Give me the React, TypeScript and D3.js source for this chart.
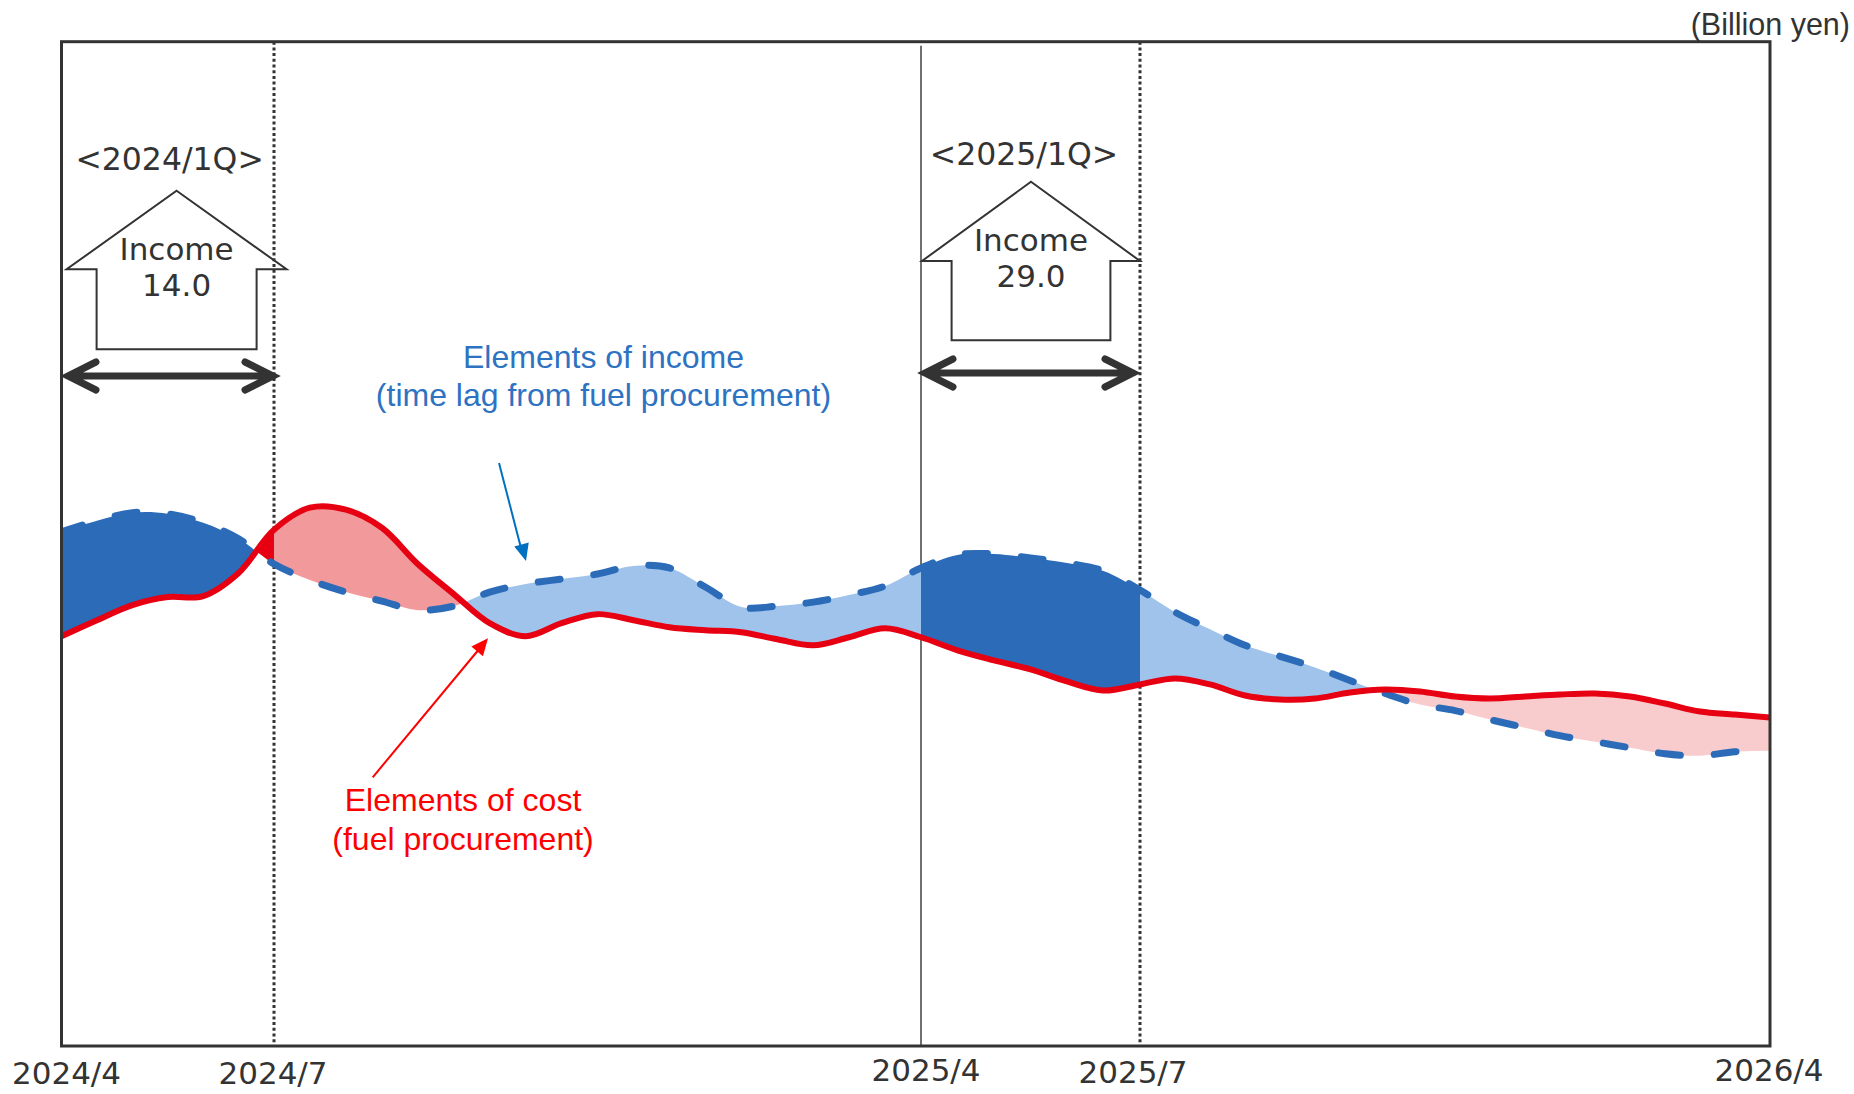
import React from "react";
import * as d3 from "d3";

// ---- data (months since 2024/4, values in arbitrary billion-yen index) ----
const months = [0, 0.5, 1, 1.5, 2, 2.5, 3, 3.5, 4, 4.5, 5, 5.5, 6, 6.5, 7, 7.5, 8, 8.5, 9, 9.5, 10, 10.5, 11, 11.5, 12, 12.5, 13, 13.5, 14, 14.5, 15, 15.5, 16, 16.5, 17, 17.5, 18, 18.5, 19, 19.5, 20, 20.5, 21, 21.5, 22, 22.5, 23, 23.5, 24];
const income = [51.2, 52.3, 53.1, 53.0, 52.1, 50.5, 48.0, 46.4, 45.2, 44.3, 43.4, 43.8, 45.2, 46.0, 46.5, 47.0, 47.8, 47.6, 45.7, 43.7, 43.8, 44.2, 44.9, 45.8, 47.6, 48.9, 49.0, 48.6, 48.1, 47.3, 45.4, 43.2, 41.5, 39.9, 38.8, 37.7, 36.4, 35.1, 34.0, 33.4, 32.5, 31.7, 30.9, 30.3, 29.7, 29.1, 28.9, 29.3, 29.4];
const cost = [40.8, 42.4, 43.9, 44.7, 44.8, 47.1, 51.4, 53.6, 53.4, 51.6, 48.0, 45.0, 42.1, 40.8, 42.1, 43.0, 42.4, 41.7, 41.4, 41.2, 40.5, 39.9, 40.7, 41.6, 40.7, 39.4, 38.4, 37.5, 36.3, 35.4, 36.0, 36.6, 36.0, 34.9, 34.5, 34.6, 35.2, 35.5, 35.3, 34.8, 34.6, 34.8, 35.0, 35.1, 34.8, 34.1, 33.3, 33.0, 32.7];

const tickMonths = [0, 3, 12, 15, 24];
const tickLabels = ["2024/4", "2024/7", "2025/4", "2025/7", "2026/4"];
const quarterStart = [0, 12];
const quarterEnd = [3, 15];
const quarterLabels = ["<2024/1Q>", "<2025/1Q>"];
const quarterIncome = ["14.0", "29.0"];

// ---- layout ----
const W = 1854;
const H = 1094;
const L = 61.5, R = 1770, T = 41.7, B = 1046;

const C_DARKBLUE = "#2b6bb8";
const C_LIGHTBLUE = "#a0c3eb";
const C_RED = "#e60012";
const C_PINK1 = "#f2999c";
const C_PINK2 = "#f8cbcc";
const C_INK = "#333333";

const tickNudge = [5, -1, 5, -7, -1];
const tickBase = [1084, 1084, 1081, 1083, 1081];

function arrowHead(x1: number, y1: number, x2: number, y2: number, len: number, hw: number) {
  const a = Math.atan2(y2 - y1, x2 - x1);
  const bx = x2 - len * Math.cos(a), by = y2 - len * Math.sin(a);
  const px = -Math.sin(a) * hw, py = Math.cos(a) * hw;
  return `M${x2},${y2}L${bx + px},${by + py}L${bx - px},${by - py}Z`;
}

function chevronArrow(x1: number, x2: number, yy: number) {
  const dx = 28, dy = 14;
  return `M${x1},${yy}L${x2},${yy}M${x1 + dx},${yy - dy}L${x1},${yy}L${x1 + dx},${yy + dy}M${x2 - dx},${yy - dy}L${x2},${yy}L${x2 - dx},${yy + dy}`;
}

function houseArrow(cx: number, halfOuter: number, halfShaft: number, tip: number, shoulder: number, bottom: number) {
  return `M${cx},${tip}L${cx + halfOuter},${shoulder}L${cx + halfShaft},${shoulder}L${cx + halfShaft},${bottom}L${cx - halfShaft},${bottom}L${cx - halfShaft},${shoulder}L${cx - halfOuter},${shoulder}Z`;
}

export default function App() {
  const x = d3.scaleLinear().domain(tickMonths).range([L, 274, 921, 1140, R]);
  const y = d3.scaleLinear().domain([0, 100]).range([B, T]);
  const idx = months.map((_, i) => i);
  const curve = d3.curveCatmullRom.alpha(0.5);

  const between = d3.area<number>()
    .x((i) => x(months[i]))
    .y0((i) => y(cost[i]))
    .y1((i) => y(income[i]))
    .curve(curve)(idx) || "";
  const aboveCost = d3.area<number>()
    .x((i) => x(months[i]))
    .y0(0)
    .y1((i) => y(cost[i]))
    .curve(curve)(idx) || "";
  const belowCost = d3.area<number>()
    .x((i) => x(months[i]))
    .y0((i) => y(cost[i]))
    .y1(H)
    .curve(curve)(idx) || "";
  const incomeLine = d3.line<number>()
    .x((i) => x(months[i]))
    .y((i) => y(income[i]))
    .curve(curve)(idx) || "";
  const costLine = d3.line<number>()
    .x((i) => x(months[i]))
    .y((i) => y(cost[i]))
    .curve(curve)(idx) || "";

  const houses = [
    { cx: 176.6, ho: 110, hs: 80, tip: 190.7, sh: 269.3, bot: 349.3, lab: 170, inc: 260, val: 296, ay: 376, ax1: 68, ax2: 273 },
    { cx: 1031, ho: 109, hs: 79.4, tip: 181.7, sh: 261, bot: 340.3, lab: 165, inc: 251, val: 287, ay: 373, ax1: 925, ax2: 1133 },
  ];

  return (
    <svg width={W} height={H} style={{ position: "absolute", left: 0, top: 0, background: "#fff" }}>
      <defs>
        <clipPath id="cAbove"><path d={aboveCost} /></clipPath>
        <clipPath id="cBelow"><path d={belowCost} /></clipPath>
        <clipPath id="cQ">
          {quarterStart.map((s, i) => (
            <rect key={i} x={x(s)} y={0} width={x(quarterEnd[i]) - x(s)} height={H} />
          ))}
        </clipPath>
        <clipPath id="cOut">
          <rect x={x(3)} y={0} width={x(12) - x(3)} height={H} />
          <rect x={x(15)} y={0} width={x(24) - x(15)} height={H} />
        </clipPath>
        <clipPath id="cMid"><rect x={x(3)} y={0} width={x(12) - x(3)} height={H} /></clipPath>
        <clipPath id="cLate"><rect x={x(15)} y={0} width={x(24) - x(15)} height={H} /></clipPath>
        <clipPath id="cPlot"><rect x={L} y={T} width={R - L} height={B - T} /></clipPath>
      </defs>

      {/* vertical period lines */}
      <line x1={x(3)} x2={x(3)} y1={T} y2={B} stroke={C_INK} strokeWidth={3} strokeDasharray="3 2.7" />
      <line x1={x(15)} x2={x(15)} y1={T} y2={B} stroke={C_INK} strokeWidth={3} strokeDasharray="3 2.7" />
      <line x1={x(12)} x2={x(12)} y1={T + 4} y2={B} stroke="#404040" strokeWidth={1.5} />

      {/* fills: income above cost */}
      <g clipPath="url(#cAbove)">
        <path d={between} fill={C_DARKBLUE} clipPath="url(#cQ)" />
        <path d={between} fill={C_LIGHTBLUE} clipPath="url(#cOut)" />
      </g>
      {/* fills: cost above income */}
      <g clipPath="url(#cBelow)">
        <path d={between} fill={C_RED} clipPath="url(#cQ)" />
        <path d={between} fill={C_PINK1} clipPath="url(#cMid)" />
        <path d={between} fill={C_PINK2} clipPath="url(#cLate)" />
      </g>

      <g clipPath="url(#cPlot)">
        <path d={incomeLine} fill="none" stroke={C_DARKBLUE} strokeWidth={7} strokeDasharray="22 34" strokeLinecap="round" />
        <path d={costLine} fill="none" stroke={C_RED} strokeWidth={6} strokeLinecap="round" strokeLinejoin="round" />
      </g>

      {/* frame */}
      <rect x={L} y={T} width={R - L} height={B - T} fill="none" stroke={C_INK} strokeWidth={3} />

      {/* x tick labels */}
      {tickMonths.map((m, i) => (
        <text key={i} x={x(m) + tickNudge[i]} y={tickBase[i]}
          textAnchor="middle" fontFamily="DejaVu Sans" fontSize={31} fill={C_INK}>
          {tickLabels[i]}
        </text>
      ))}

      <text x={1850} y={35} textAnchor="end" fontFamily="Liberation Sans, Arial" fontSize={30.5} fill={C_INK}>(Billion yen)</text>

      {/* quarter annotations */}
      {houses.map((h, i) => (
        <g key={i}>
          <text x={h.cx - 7} y={h.lab} textAnchor="middle" fontFamily="DejaVu Sans" fontSize={31.5} fill={C_INK}>{quarterLabels[i]}</text>
          <path d={houseArrow(h.cx, h.ho, h.hs, h.tip, h.sh, h.bot)} fill="none" stroke={C_INK} strokeWidth={2} />
          <text x={h.cx} y={h.inc} textAnchor="middle" fontFamily="DejaVu Sans" fontSize={31} fill={C_INK}>Income</text>
          <text x={h.cx} y={h.val} textAnchor="middle" fontFamily="DejaVu Sans" fontSize={31} fill={C_INK}>{quarterIncome[i]}</text>
          <path d={chevronArrow(h.ax1, h.ax2, h.ay)} fill="none" stroke={C_INK} strokeWidth={7} strokeLinecap="round" strokeLinejoin="miter" />
        </g>
      ))}

      {/* income label + arrow */}
      <text x={603.5} y={367.5} textAnchor="middle" fontFamily="Liberation Sans, Arial" fontSize={32} fill="#2e72c2">Elements of income</text>
      <text x={603.5} y={405.5} textAnchor="middle" fontFamily="Liberation Sans, Arial" fontSize={32} fill="#2e72c2">(time lag from fuel procurement)</text>
      <line x1={499} y1={463} x2={521} y2={548} stroke="#0070c0" strokeWidth={2} />
      <path d={arrowHead(499, 463, 526, 561, 17, 7.5)} fill="#0070c0" />

      {/* cost label + arrow */}
      <text x={463} y={811} textAnchor="middle" fontFamily="Liberation Sans, Arial" fontSize={32} fill="#ff0000">Elements of cost</text>
      <text x={463} y={850} textAnchor="middle" fontFamily="Liberation Sans, Arial" fontSize={32} fill="#ff0000">(fuel procurement)</text>
      <line x1={372.7} y1={777.3} x2={480} y2={648} stroke="#ff0000" strokeWidth={2} />
      <path d={arrowHead(372.7, 777.3, 488, 638.3, 17, 7.5)} fill="#ff0000" />
    </svg>
  );
}
